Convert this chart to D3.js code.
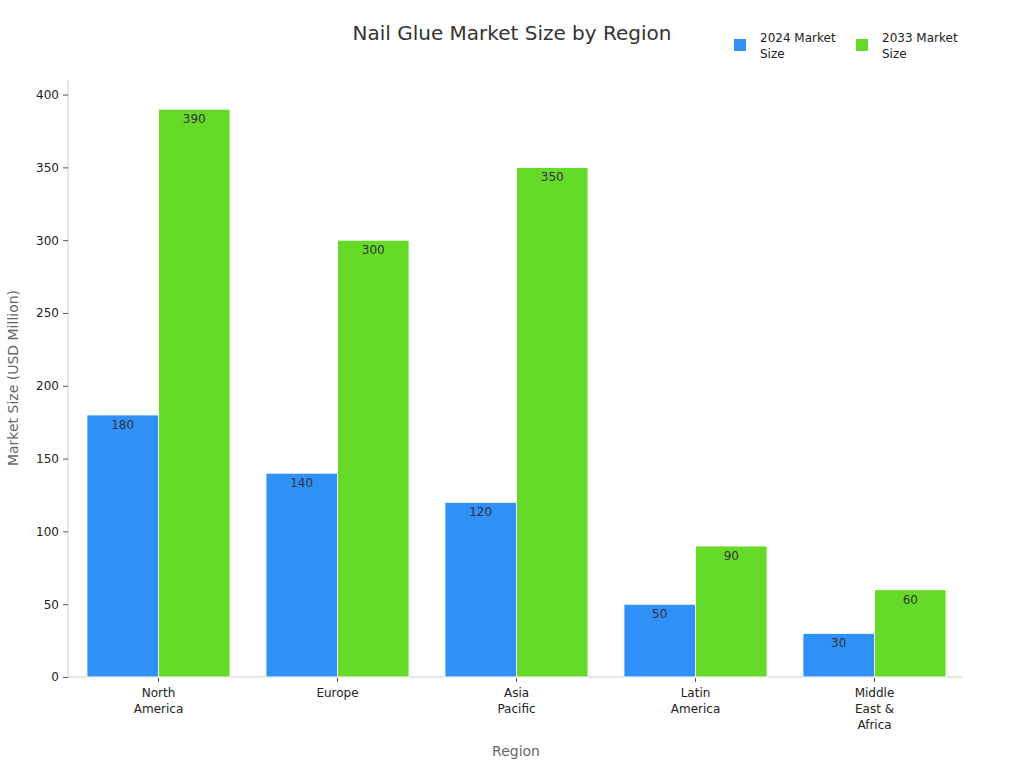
<!DOCTYPE html>
<html><head><meta charset="utf-8">
<script src="https://cdn.jsdelivr.net/npm/d3@7"></script>
<style>body{margin:0;background:#fff;font-family:"DejaVu Sans",sans-serif;}</style>
</head><body><svg width="1024" height="768"></svg>
<script>
const categories=[["North","America"],["Europe"],["Asia","Pacific"],["Latin","America"],["Middle","East &","Africa"]];
const series=["2024 Market Size","2033 Market Size"];
const legendLines=[["2024 Market","Size"],["2033 Market","Size"]];
const values2024=[180,140,120,50,30];
const values2033=[390,300,350,90,60];
const yTicks=[0,50,100,150,200,250,300,350,400];
const colors=["#2f91f7","#66da29"];
const svg=d3.select("svg");
const L=68,R=963,T=80,B=677;
const keys=categories.map(c=>c.join(" "));
const x=d3.scaleBand().domain(keys).range([L+1,R+1]).paddingInner(0.2).paddingOuter(0.1);
const xs=d3.scaleBand().domain([0,1]).range([0,x.bandwidth()]);
const y=d3.scaleLinear().domain([0,410]).range([B,T]);
const data=[values2024,values2033];
const ax=svg.append("g").attr("transform",`translate(${L},0)`).call(d3.axisLeft(y).tickValues(yTicks).tickSize(5).tickPadding(4));
ax.select(".domain").attr("stroke","#ccc").attr("d",`M0,${T}V${B}`);
ax.selectAll(".tick line").attr("stroke","#555");
ax.selectAll("text").attr("font-size",12).attr("fill","#222").attr("font-family","DejaVu Sans");
const bx=svg.append("g").attr("transform",`translate(0,${B})`).call(d3.axisBottom(x).tickSize(5).tickFormat(""));
bx.select(".domain").attr("stroke","#ccc").attr("d",`M${L},0H${R}`);
bx.selectAll(".tick line").attr("stroke","#555");
categories.forEach((c,i)=>{
  const cx=x(keys[i])+x.bandwidth()/2;
  const t=svg.append("text").attr("x",cx).attr("y",B+20).attr("text-anchor","middle").attr("font-size",12).attr("fill","#222");
  c.forEach((l,j)=>t.append("tspan").attr("x",cx).attr("dy",j?16:0).text(l));
});
data.forEach((vals,s)=>{
  vals.forEach((v,i)=>{
    const bxp=x(keys[i])+xs(s);
    svg.append("rect").attr("x",bxp).attr("y",y(v)).attr("width",xs.bandwidth()).attr("height",B-y(v)).attr("fill",colors[s]).attr("stroke","#fff").attr("stroke-width",1);
    svg.append("text").attr("x",bxp+xs.bandwidth()/2).attr("y",y(v)+14).attr("text-anchor","middle").attr("font-size",12).attr("fill","#333").text(v);
  });
});
svg.append("text").attr("x",512).attr("y",40).attr("text-anchor","middle").attr("font-size",20).attr("fill","#333").text("Nail Glue Market Size by Region");
svg.append("text").attr("x",516).attr("y",756).attr("text-anchor","middle").attr("font-size",14).attr("fill","#666").text("Region");
svg.append("text").attr("transform","translate(18,378) rotate(-90)").attr("text-anchor","middle").attr("font-size",14).attr("fill","#666").text("Market Size (USD Million)");
[734,856].forEach((lx,i)=>{
  svg.append("rect").attr("x",lx).attr("y",39).attr("width",12).attr("height",12).attr("fill",colors[i]);
  const t=svg.append("text").attr("x",lx+26).attr("y",42).attr("font-size",12).attr("fill","#222");
  legendLines[i].forEach((l,j)=>t.append("tspan").attr("x",lx+26).attr("dy",j?16:0).text(l));
});
</script></body></html>
